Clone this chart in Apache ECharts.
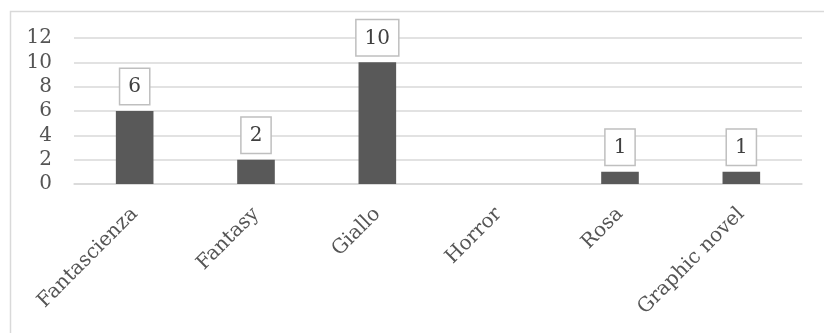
<!DOCTYPE html>
<html><head><meta charset="utf-8">
<script src="https://cdn.jsdelivr.net/npm/echarts@6/dist/echarts.min.js"></script>
<style>html,body{margin:0;padding:0;background:#fff}#c{width:824px;height:333px}</style>
</head><body><div id="c"></div>
<script>
const categories = ['Fantascienza', 'Fantasy', 'Giallo', 'Horror', 'Rosa', 'Graphic novel'];
const values = [6, 2, 10, 0, 1, 1];
const yTicks = [0, 2, 4, 6, 8, 10, 12];

const FONT = '"DejaVu Serif", "Liberation Serif", serif';
const chart = echarts.init(document.getElementById('c'), null, {renderer: 'canvas'});
chart.setOption({
  animation: false,
  backgroundColor: '#fff',
  graphic: [{
    type: 'rect', left: 8, top: 9,
    shape: {x: 0, y: 0, width: 830, height: 340},
    style: {fill: 'none', stroke: '#d9d9d9', lineWidth: 1.5}
  }],
  grid: {left: 74, right: 22, top: 38, bottom: 149, containLabel: false},
  xAxis: {
    type: 'category', data: categories,
    axisLine: {show: true, lineStyle: {color: '#d9d9d9', width: 1.5}},
    axisTick: {show: false},
    axisLabel: {rotate: 45, color: '#555555', fontFamily: FONT, fontSize: 20, margin: 27, interval: 0}
  },
  yAxis: {
    type: 'value', min: 0, max: 12, interval: 2,
    axisLine: {show: false}, axisTick: {show: false},
    splitLine: {lineStyle: {color: '#d9d9d9', width: 1.5}},
    axisLabel: {color: '#555555', fontFamily: FONT, fontSize: 20, margin: 22,
      formatter: v => yTicks.includes(v) ? String(v) : ''}
  },
  series: [{
    type: 'bar', data: values.map(v => v === 0 ? {value: v, label: {show: false}} : v),
    barWidth: '31%',
    itemStyle: {color: '#595959'},
    label: {
      show: true, position: 'top', distance: 7,
      color: '#404040', fontFamily: FONT, fontSize: 20, lineHeight: 24,
      backgroundColor: '#fff', borderColor: '#bfbfbf', borderWidth: 1.5,
      padding: [6, 8, 5, 8]
    }
  }]
});
</script></body></html>
